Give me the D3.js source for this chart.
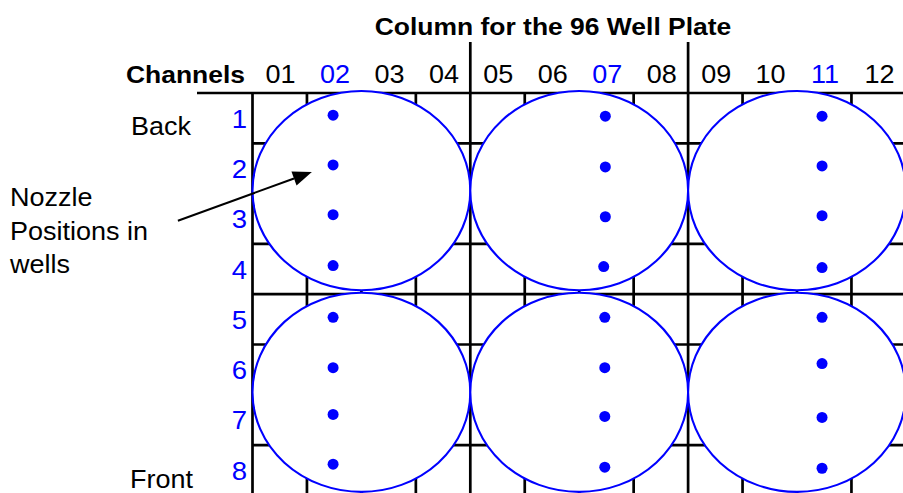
<!DOCTYPE html>
<html>
<head>
<meta charset="utf-8">
<script src="https://cdn.jsdelivr.net/npm/d3@7"></script>
<style>
  html, body { margin: 0; padding: 0; background: #fff; }
  svg { display: block; }
  text { font-family: "Liberation Sans", Arial, Helvetica, sans-serif; }
</style>
</head>
<body>
<svg id="chart" width="903" height="493"></svg>
<script>
// ---------------- data ----------------
const title = "Column for the 96 Well Plate";
const columns = ["01","02","03","04","05","06","07","08","09","10","11","12"];
const highlightColumns = ["02","07","11"];
const channels = [1,2,3,4,5,6,7,8];
const sideLabels = ["Back","Front"];
const noteLines = ["Nozzle","Positions in","wells"];
// plate sections separated by the taller lines (after column 4 and 8)
const sectionBoundaries = [4, 8];
// wells: centre in grid units (column boundary index, row boundary index), radii in cells
const wellCx = [2, 6, 10];
const wellCy = [1.94, 5.95];
const wellRx = 2.0;
const wellRy = 1.98;
// nozzle positions (column number, channel number)
const nozzleCols = [
  [1.98,1.98,1.98,1.98, 1.98,1.98,1.98,1.98],
  [6.98,6.98,6.98,6.95, 6.97,6.97,6.97,6.97],
  [10.96,10.96,10.96,10.96, 10.96,10.96,10.96,10.96]
];
const nozzleChannels = [
  [0.94,1.93,2.92,3.93, 4.96,5.96,6.89,7.88],
  [0.96,1.97,2.96,3.95, 4.96,5.96,6.93,7.94],
  [0.96,1.95,2.94,3.97, 4.96,5.88,6.95,7.96]
];

// ---------------- layout ----------------
const svg = d3.select("#chart");
const blue = "#0000FF";
const sx = 1.08; // horizontal text stretch of the original
const x = d3.scaleLinear().domain([0, 12]).range([252.5, 252.5 + 12 * 54.45]); // boundary index -> px
const y = d3.scaleLinear().domain([0, 8]).range([93, 93 + 8 * 50.3]);
const colCenter = c => x(c - 0.5);
const chCenter = ch => y(ch - 0.5);

function txt(g, s, px, py, opts) {
  return g.append("text")
    .attr("transform", `translate(${px},${py}) scale(${sx},1)`)
    .attr("font-size", opts.size)
    .attr("font-weight", opts.bold ? "bold" : "normal")
    .attr("fill", opts.color || "#000")
    .attr("text-anchor", opts.anchor || "start")
    .text(s);
}

// grid
const grid = svg.append("g").attr("stroke", "#000").attr("stroke-width", 2.7);
d3.range(0, 13).forEach(i => {
  const top = sectionBoundaries.includes(i) ? 42 : y(0);
  grid.append("line").attr("x1", x(i)).attr("x2", x(i)).attr("y1", top).attr("y2", 493);
});
d3.range(0, 8).forEach(j => {
  const left = j === 0 ? 197 : x(0);
  grid.append("line").attr("x1", left).attr("x2", 903).attr("y1", y(j)).attr("y2", y(j));
});

// wells
const wells = [];
wellCy.forEach((cy, r) => wellCx.forEach((cx, c) => wells.push({cx, cy, r, c})));
svg.append("g").selectAll("ellipse").data(wells).join("ellipse")
  .attr("cx", d => x(d.cx)).attr("cy", d => y(d.cy))
  .attr("rx", x(wellRx) - x(0)).attr("ry", y(wellRy) - y(0))
  .attr("fill", "#fff").attr("stroke", blue).attr("stroke-width", 2.1);

// nozzles
const dots = [];
nozzleCols.forEach((cols, w) => cols.forEach((c, k) => dots.push({c, ch: nozzleChannels[w][k]})));
svg.append("g").selectAll("circle").data(dots).join("circle")
  .attr("cx", d => colCenter(d.c)).attr("cy", d => chCenter(d.ch))
  .attr("r", 5.5).attr("fill", blue);

// texts
const tg = svg.append("g");
txt(tg, title, 553, 35, {size: 24.5, bold: true, anchor: "middle"});
txt(tg, "Channels", 245, 83, {size: 24.5, bold: true, anchor: "end"});
columns.forEach((c, i) => {
  txt(tg, c, colCenter(i + 1) + 0.8, 83, {size: 25, color: highlightColumns.includes(c) ? blue : "#000", anchor: "middle"});
});
channels.forEach(ch => {
  txt(tg, String(ch), 239.5, chCenter(ch) + 9.5, {size: 25.5, color: blue, anchor: "middle"});
});
txt(tg, sideLabels[0], 131, 135, {size: 25});
txt(tg, sideLabels[1], 130, 488, {size: 25});
noteLines.forEach((s, i) => txt(tg, s, 10, 206 + i * 33.5, {size: 25}));

// arrow
const tail = [colCenter(-0.87), chCenter(3.04)];
const tip = [colCenter(1.59), chCenter(2.07)];
const ang = Math.atan2(tip[1] - tail[1], tip[0] - tail[0]);
const L = 19, W = 7.5;
const base = [tip[0] - L * Math.cos(ang), tip[1] - L * Math.sin(ang)];
svg.append("line").attr("x1", tail[0]).attr("y1", tail[1]).attr("x2", base[0]).attr("y2", base[1])
  .attr("stroke", "#000").attr("stroke-width", 2);
svg.append("path")
  .attr("d", d3.line()([
    tip,
    [base[0] + W * Math.sin(ang), base[1] - W * Math.cos(ang)],
    [base[0] - W * Math.sin(ang), base[1] + W * Math.cos(ang)]
  ]) + "Z")
  .attr("fill", "#000");
</script>
</body>
</html>
